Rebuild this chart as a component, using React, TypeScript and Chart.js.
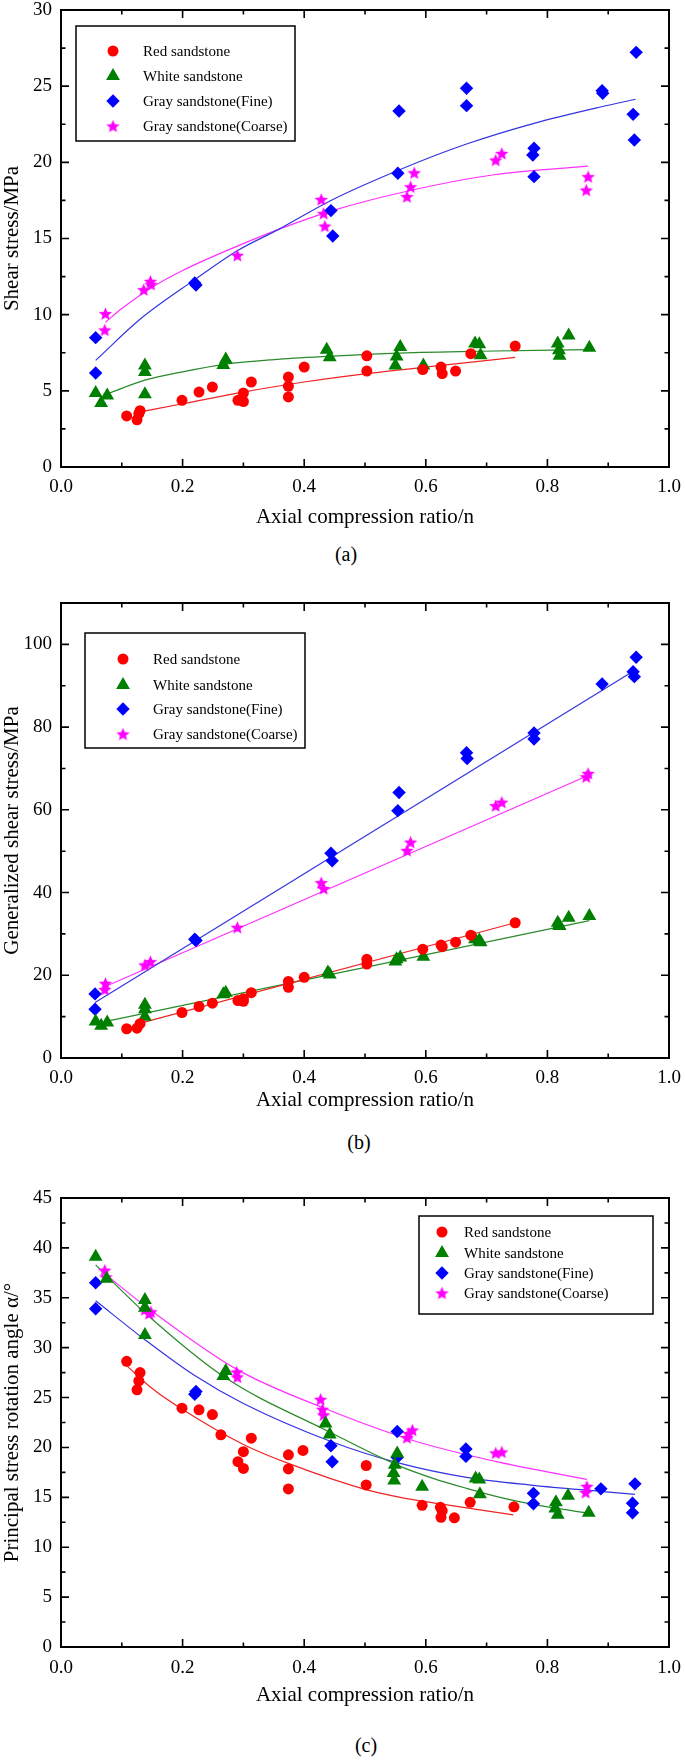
import React, { useEffect, useRef } from 'react';
import { Chart, registerables } from 'chart.js';

Chart.register(...registerables);

const FONT = "'Liberation Serif', 'Times New Roman', serif";

type Pt = [number, number];

// ---------- ticks ----------
const xTickValues = [0, 0.2, 0.4, 0.6, 0.8, 1.0];
const yTickValuesA = [0, 5, 10, 15, 20, 25, 30];
const yTickValuesB = [0, 20, 40, 60, 80, 100];
const yTickValuesC = [0, 5, 10, 15, 20, 25, 30, 35, 40, 45];

const seriesNames = ['Red sandstone', 'White sandstone', 'Gray sandstone(Fine)', 'Gray sandstone(Coarse)'];
const seriesColors = ['#ff0000', '#008000', '#0000ff', '#ff00ff'];
const fitColors = ['#f02424', '#2a8a2a', '#3434e0', '#ff30ff'];

// ---------- (a) shear stress ----------
const redA: Pt[] = [[0.108, 3.35], [0.125, 3.1], [0.128, 3.5], [0.130, 3.7], [0.199, 4.38], [0.227, 4.92], [0.249, 5.25], [0.291, 4.38], [0.300, 4.3], [0.300, 4.85], [0.313, 5.58], [0.374, 5.9], [0.374, 5.3], [0.374, 4.6], [0.400, 6.56], [0.503, 7.3], [0.503, 6.3], [0.595, 6.4], [0.625, 6.56], [0.627, 6.13], [0.649, 6.3], [0.674, 7.44], [0.747, 7.94]];
const greenA: Pt[] = [[0.057, 4.86], [0.066, 4.2], [0.076, 4.7], [0.138, 6.67], [0.138, 6.24], [0.138, 4.77], [0.267, 6.7], [0.271, 7.05], [0.437, 7.7], [0.442, 7.2], [0.550, 6.67], [0.552, 7.26], [0.558, 7.88], [0.596, 6.67], [0.681, 8.1], [0.688, 8.05], [0.690, 7.33], [0.817, 8.1], [0.819, 7.66], [0.820, 7.3], [0.835, 8.64], [0.869, 7.83]];
const blueA: Pt[] = [[0.057, 8.49], [0.057, 6.17], [0.220, 12.08], [0.222, 11.95], [0.444, 16.83], [0.447, 15.16], [0.556, 23.37], [0.554, 19.28], [0.667, 24.86], [0.667, 23.72], [0.778, 20.92], [0.776, 20.48], [0.778, 19.06], [0.890, 24.7], [0.891, 24.53], [0.946, 27.22], [0.941, 23.15], [0.943, 21.47]];
const magentaA: Pt[] = [[0.073, 10.07], [0.072, 9.0], [0.136, 11.64], [0.147, 12.19], [0.148, 12.0], [0.290, 13.9], [0.428, 17.57], [0.432, 16.65], [0.434, 15.82], [0.569, 17.75], [0.575, 18.4], [0.581, 19.32], [0.715, 20.15], [0.725, 20.59], [0.864, 18.18], [0.867, 19.06]];

const redFitA: Pt[] = [[0.128, 3.6], [0.2, 4.15], [0.3, 4.92], [0.4, 5.58], [0.503, 6.13], [0.625, 6.67], [0.747, 7.2]];
const greenFitA: Pt[] = [[0.076, 4.8], [0.138, 5.7], [0.2, 6.25], [0.269, 6.74], [0.35, 7.05], [0.437, 7.26], [0.558, 7.48], [0.688, 7.6], [0.869, 7.7]];
const blueFitA: Pt[] = [[0.057, 7.0], [0.13, 9.7], [0.22, 12.3], [0.29, 14.2], [0.358, 15.6], [0.444, 17.5], [0.556, 19.5], [0.667, 21.2], [0.778, 22.56], [0.889, 23.65], [0.945, 24.14]];
const magentaFitA: Pt[] = [[0.073, 9.5], [0.1, 10.4], [0.15, 11.8], [0.2, 12.9], [0.29, 14.5], [0.358, 15.6], [0.444, 16.8], [0.569, 18.1], [0.715, 19.2], [0.867, 19.75]];

// ---------- (b) generalized shear stress ----------
const redB: Pt[] = [[0.108, 7.07], [0.125, 7.2], [0.130, 8.3], [0.199, 11.0], [0.227, 12.45], [0.249, 13.25], [0.291, 13.9], [0.300, 14.3], [0.300, 13.7], [0.313, 15.8], [0.374, 18.5], [0.374, 17.1], [0.400, 19.5], [0.503, 23.85], [0.503, 22.7], [0.595, 26.3], [0.625, 27.3], [0.627, 26.9], [0.649, 28.0], [0.674, 29.7], [0.747, 32.7]];
const greenB: Pt[] = [[0.057, 8.8], [0.066, 7.8], [0.076, 8.6], [0.138, 12.85], [0.138, 11.8], [0.138, 10.0], [0.267, 15.4], [0.271, 15.8], [0.439, 20.7], [0.442, 20.2], [0.550, 23.3], [0.552, 23.85], [0.558, 24.3], [0.596, 24.5], [0.681, 28.7], [0.688, 28.4], [0.690, 28.0], [0.817, 32.7], [0.819, 32.1], [0.820, 31.9], [0.835, 33.9], [0.869, 34.3]];
const blueB: Pt[] = [[0.056, 15.5], [0.056, 11.8], [0.220, 28.7], [0.222, 28.4], [0.444, 49.5], [0.446, 47.7], [0.556, 64.2], [0.554, 59.8], [0.667, 73.8], [0.668, 72.4], [0.778, 78.6], [0.778, 77.1], [0.890, 90.4], [0.946, 96.9], [0.941, 93.4], [0.943, 92.2]];
const magentaB: Pt[] = [[0.073, 18.07], [0.072, 16.6], [0.138, 22.5], [0.147, 23.3], [0.290, 31.6], [0.428, 42.4], [0.432, 41.0], [0.569, 50.2], [0.575, 52.2], [0.715, 61.0], [0.725, 61.85], [0.864, 68.0], [0.867, 68.8]];

const redFitB: Pt[] = [[0.128, 8.3], [0.747, 32.7]];
const greenFitB: Pt[] = [[0.076, 8.9], [0.869, 33.2]];
const blueFitB: Pt[] = [[0.056, 13.4], [0.943, 93.7]];
const magentaFitB: Pt[] = [[0.073, 17.3], [0.867, 68.3]];

// ---------- (c) principal stress rotation angle ----------
const redC: Pt[] = [[0.108, 28.63], [0.130, 27.5], [0.128, 26.67], [0.125, 25.77], [0.199, 23.93], [0.227, 23.77], [0.249, 23.3], [0.263, 21.27], [0.313, 20.93], [0.300, 19.57], [0.291, 18.57], [0.300, 17.9], [0.374, 19.26], [0.374, 17.85], [0.374, 15.84], [0.398, 19.7], [0.502, 18.19], [0.502, 16.24], [0.594, 14.2], [0.624, 14.0], [0.627, 13.66], [0.625, 13.0], [0.647, 12.95], [0.673, 14.5], [0.745, 14.05]];
const greenC: Pt[] = [[0.057, 39.1], [0.075, 36.9], [0.138, 34.77], [0.138, 34.0], [0.138, 31.27], [0.267, 27.17], [0.271, 27.67], [0.435, 22.4], [0.442, 21.3], [0.553, 19.4], [0.549, 18.26], [0.547, 17.45], [0.548, 16.68], [0.594, 16.05], [0.682, 16.9], [0.688, 16.78], [0.689, 15.3], [0.814, 14.5], [0.813, 13.89], [0.817, 13.25], [0.834, 15.15], [0.868, 13.45]];
const blueC: Pt[] = [[0.057, 36.5], [0.057, 33.9], [0.220, 25.33], [0.222, 25.6], [0.444, 20.17], [0.446, 18.57], [0.553, 21.6], [0.553, 19.0], [0.666, 19.85], [0.666, 19.1], [0.777, 15.4], [0.777, 14.35], [0.888, 15.85], [0.944, 16.35], [0.940, 14.4], [0.940, 13.45]];
const magentaC: Pt[] = [[0.072, 37.77], [0.074, 37.1], [0.138, 33.83], [0.145, 33.43], [0.148, 33.6], [0.289, 27.57], [0.290, 27.07], [0.427, 24.83], [0.430, 23.83], [0.432, 23.27], [0.569, 21.0], [0.572, 21.4], [0.578, 21.75], [0.715, 19.45], [0.725, 19.55], [0.865, 16.1], [0.863, 15.5]];

const redFitC: Pt[] = [[0.108, 28.2], [0.15, 25.9], [0.2, 23.8], [0.3, 20.3], [0.374, 18.4], [0.5, 15.8], [0.558, 15.0], [0.612, 14.45], [0.667, 13.95], [0.744, 13.25]];
const greenFitC: Pt[] = [[0.057, 38.3], [0.138, 33.5], [0.27, 27.0], [0.44, 21.6], [0.558, 18.1], [0.612, 16.9], [0.667, 15.9], [0.722, 15.0], [0.777, 14.3], [0.868, 13.4]];
const blueFitC: Pt[] = [[0.057, 34.7], [0.138, 30.8], [0.22, 27.2], [0.3, 24.4], [0.444, 20.6], [0.558, 18.4], [0.667, 17.0], [0.777, 16.2], [0.887, 15.6], [0.944, 15.3]];
const magentaFitC: Pt[] = [[0.072, 37.4], [0.138, 34.2], [0.29, 27.8], [0.43, 24.0], [0.579, 20.7], [0.722, 18.5], [0.865, 16.8]];

// ---------- helpers ----------
const toXY = (arr: Pt[]) => arr.map(([x, y]) => ({ x, y }));

let starCanvas: HTMLCanvasElement | null = null;
function getStar(): HTMLCanvasElement {
  if (starCanvas) return starCanvas;
  const size = 15;
  const c = document.createElement('canvas');
  c.width = size;
  c.height = size;
  const ctx = c.getContext('2d')!;
  const R = 7;
  const r = R * 0.45;
  const cx = size / 2;
  const cy = size / 2 + 0.7;
  ctx.beginPath();
  for (let i = 0; i < 10; i++) {
    const a = -Math.PI / 2 + (i * Math.PI) / 5;
    const rad = i % 2 === 0 ? R : r;
    const px = cx + rad * Math.cos(a);
    const py = cy + rad * Math.sin(a);
    if (i === 0) ctx.moveTo(px, py);
    else ctx.lineTo(px, py);
  }
  ctx.closePath();
  ctx.fillStyle = seriesColors[3];
  ctx.fill();
  starCanvas = c;
  return c;
}

function drawMarker(ctx: CanvasRenderingContext2D, idx: number, x: number, y: number) {
  ctx.fillStyle = seriesColors[idx];
  if (idx === 3) {
    const s = getStar();
    ctx.drawImage(s, x - s.width / 2, y - s.height / 2);
    return;
  }
  ctx.beginPath();
  if (idx === 0) {
    ctx.arc(x, y, 5.5, 0, Math.PI * 2);
  } else if (idx === 1) {
    const r = 8;
    for (let i = 0; i < 3; i++) {
      const a = (i * 2 * Math.PI) / 3;
      const px = x + Math.sin(a) * r;
      const py = y - Math.cos(a) * r;
      if (i === 0) ctx.moveTo(px, py);
      else ctx.lineTo(px, py);
    }
    ctx.closePath();
  } else {
    const r = 6.7;
    ctx.moveTo(x - r, y);
    ctx.lineTo(x, y - r);
    ctx.lineTo(x + r, y);
    ctx.lineTo(x, y + r);
    ctx.closePath();
  }
  ctx.fill();
}

function minorValues(major: number[], max: number): number[] {
  const out: number[] = [];
  for (let i = 0; i < major.length - 1; i++) out.push((major[i] + major[i + 1]) / 2);
  const step = major[1] - major[0];
  const extra = major[major.length - 1] + step / 2;
  if (extra < max - 1e-9) out.push(extra);
  return out;
}

const framePlugin = {
  id: 'frameTicks',
  afterDraw(chart: any, _args: any, opts: any) {
    const { ctx, chartArea } = chart;
    const { left, right, top, bottom } = chartArea;
    const xs = chart.scales.x;
    const ys = chart.scales.y;
    const xMaj: number[] = opts.xMajor;
    const yMaj: number[] = opts.yMajor;
    const xMin = minorValues(xMaj, opts.xMax);
    const yMin = minorValues(yMaj, opts.yMax);
    const MAJ = 8;
    const MIN = 4.5;
    ctx.save();
    ctx.strokeStyle = '#000';
    ctx.lineWidth = 1.6;
    ctx.beginPath();
    const xTick = (v: number, len: number) => {
      const p = xs.getPixelForValue(v);
      ctx.moveTo(p, bottom);
      ctx.lineTo(p, bottom - len);
      ctx.moveTo(p, top);
      ctx.lineTo(p, top + len);
    };
    const yTick = (v: number, len: number) => {
      const p = ys.getPixelForValue(v);
      ctx.moveTo(left, p);
      ctx.lineTo(left + len, p);
      ctx.moveTo(right, p);
      ctx.lineTo(right - len, p);
    };
    xMaj.forEach((v) => xTick(v, MAJ));
    xMin.forEach((v) => xTick(v, MIN));
    yMaj.forEach((v) => yTick(v, MAJ));
    yMin.forEach((v) => yTick(v, MIN));
    ctx.stroke();
    ctx.lineWidth = 2;
    ctx.strokeRect(left, top, right - left, bottom - top);
    ctx.restore();
  },
};

const legendPlugin = {
  id: 'boxLegend',
  afterDraw(chart: any, _args: any, opts: any) {
    const { ctx } = chart;
    const [bx, by, bw, bh] = opts.box as number[];
    ctx.save();
    ctx.fillStyle = '#fff';
    ctx.fillRect(bx, by, bw, bh);
    ctx.strokeStyle = '#000';
    ctx.lineWidth = 1.5;
    ctx.strokeRect(bx, by, bw, bh);
    ctx.font = `15px ${FONT}`;
    ctx.textBaseline = 'middle';
    ctx.textAlign = 'left';
    seriesNames.forEach((name, i) => {
      const ry = opts.rows[i];
      drawMarker(ctx, i, opts.markerX, ry);
      ctx.fillStyle = '#000';
      ctx.fillText(name, opts.textX, ry + 1);
    });
    ctx.restore();
  },
};

interface PanelSpec {
  series: Pt[][];
  fits: Pt[][];
  curved: boolean;
  yMax: number;
  yTicks: number[];
  yTitle: string;
  padTop: number;
  xAxisH: number;
  xLabelPad: number;
  xTitlePadBottom: number;
  legend: { box: number[]; markerX: number; textX: number; rows: number[] };
}

const CANVAS_W = 685;
const CANVAS_H = 540;

function buildConfig(spec: PanelSpec): any {
  const star = getStar();
  const styles: any[] = ['circle', 'triangle', 'rectRot', star];
  const radii = [5.5, 8, 6.7, 7];
  const scatterSets = spec.series.map((s, i) => ({
    label: seriesNames[i],
    data: toXY(s),
    showLine: false,
    pointStyle: styles[i],
    pointRadius: radii[i],
    pointBackgroundColor: seriesColors[i],
    pointBorderColor: seriesColors[i],
    pointBorderWidth: 0,
  }));
  const fitSets = spec.fits.map((f, i) => ({
    label: seriesNames[i] + ' fit',
    data: toXY(f),
    showLine: true,
    pointRadius: 0,
    borderColor: fitColors[i],
    borderWidth: 1.2,
    fill: false,
    cubicInterpolationMode: spec.curved ? 'monotone' : 'default',
    tension: 0,
  }));
  return {
    type: 'scatter',
    data: { datasets: [...scatterSets, ...fitSets] },
    plugins: [framePlugin, legendPlugin],
    options: {
      animation: false,
      responsive: false,
      events: [],
      layout: { padding: { top: spec.padTop, right: 16, left: 0, bottom: 0 } },
      plugins: {
        legend: { display: false },
        tooltip: { enabled: false },
        frameTicks: { xMajor: xTickValues, yMajor: spec.yTicks, xMax: 1, yMax: spec.yMax },
        boxLegend: spec.legend,
      },
      scales: {
        x: {
          type: 'linear',
          min: 0,
          max: 1,
          grid: { display: false, drawTicks: false },
          border: { display: false },
          afterBuildTicks: (s: any) => {
            s.ticks = xTickValues.map((v) => ({ value: v }));
          },
          afterFit: (s: any) => {
            s.height = spec.xAxisH;
            s.paddingLeft = 0;
            s.paddingRight = 0;
          },
          ticks: {
            padding: spec.xLabelPad,
            color: '#000',
            font: { family: FONT, size: 19 },
            maxRotation: 0,
            autoSkip: false,
            callback: (v: any) => Number(v).toFixed(1),
          },
          title: {
            display: true,
            text: 'Axial compression ratio/n',
            color: '#000',
            font: { family: FONT, size: 21 },
            padding: { top: 0, bottom: spec.xTitlePadBottom },
          },
        },
        y: {
          type: 'linear',
          min: 0,
          max: spec.yMax,
          grid: { display: false, drawTicks: false },
          border: { display: false },
          afterBuildTicks: (s: any) => {
            s.ticks = spec.yTicks.map((v) => ({ value: v }));
          },
          afterFit: (s: any) => {
            s.width = 61;
            s.paddingTop = 0;
            s.paddingBottom = 0;
          },
          ticks: {
            padding: 9,
            color: '#000',
            font: { family: FONT, size: 19 },
            autoSkip: false,
            callback: (v: any) => String(v),
          },
          title: {
            display: true,
            text: spec.yTitle,
            color: '#000',
            font: { family: FONT, size: 21 },
            padding: { top: 0, bottom: 0 },
          },
        },
      },
    },
  };
}

const specA: PanelSpec = {
  series: [redA, greenA, blueA, magentaA],
  fits: [redFitA, greenFitA, blueFitA, magentaFitA],
  curved: true,
  yMax: 30,
  yTicks: yTickValuesA,
  yTitle: 'Shear stress/MPa',
  padTop: 10,
  xAxisH: 73,
  xLabelPad: 9,
  xTitlePadBottom: 10,
  legend: { box: [76, 26, 219, 115], markerX: 113, textX: 143, rows: [51, 76, 101, 126] },
};

const specB: PanelSpec = {
  series: [redB, greenB, blueB, magentaB],
  fits: [redFitB, greenFitB, blueFitB, magentaFitB],
  curved: false,
  yMax: 110,
  yTicks: yTickValuesB,
  yTitle: 'Generalized shear stress/MPa',
  padTop: 13,
  xAxisH: 72,
  xLabelPad: 8.6,
  xTitlePadBottom: 17,
  legend: { box: [85, 43, 220, 115], markerX: 123, textX: 153, rows: [69, 95, 119, 144] },
};

const specC: PanelSpec = {
  series: [redC, greenC, blueC, magentaC],
  fits: [redFitC, greenFitC, blueFitC, magentaFitC],
  curved: true,
  yMax: 45,
  yTicks: yTickValuesC,
  yTitle: 'Principal stress rotation angle α/°',
  padTop: 18,
  xAxisH: 73,
  xLabelPad: 9.6,
  xTitlePadBottom: 12,
  legend: { box: [419, 36, 234, 98], markerX: 442, textX: 464, rows: [52, 73, 93, 113] },
};

function Panel({ spec, top }: { spec: PanelSpec; top: number }) {
  const ref = useRef<HTMLCanvasElement>(null);
  useEffect(() => {
    if (!ref.current) return;
    const chart = new Chart(ref.current, buildConfig(spec));
    return () => chart.destroy();
  }, [spec]);
  return (
    <canvas
      ref={ref}
      width={CANVAS_W}
      height={CANVAS_H}
      style={{ position: 'absolute', left: 0, top, width: CANVAS_W, height: CANVAS_H }}
    />
  );
}

const captions = [
  { text: '(a)', x: 346, y: 554 },
  { text: '(b)', x: 359, y: 1142 },
  { text: '(c)', x: 366, y: 1745 },
];

export default function App() {
  return (
    <div style={{ position: 'absolute', left: 0, top: 0, width: 685, height: 1760, background: '#fff', overflow: 'hidden' }}>
      <Panel spec={specA} top={0} />
      <Panel spec={specB} top={590} />
      <Panel spec={specC} top={1180} />
      {captions.map((c) => (
        <div
          key={c.text}
          style={{
            position: 'absolute',
            left: c.x,
            top: c.y,
            transform: 'translate(-50%, -50%)',
            fontFamily: FONT,
            fontSize: 20,
            lineHeight: '24px',
            color: '#000',
            whiteSpace: 'nowrap',
          }}
        >
          {c.text}
        </div>
      ))}
    </div>
  );
}
